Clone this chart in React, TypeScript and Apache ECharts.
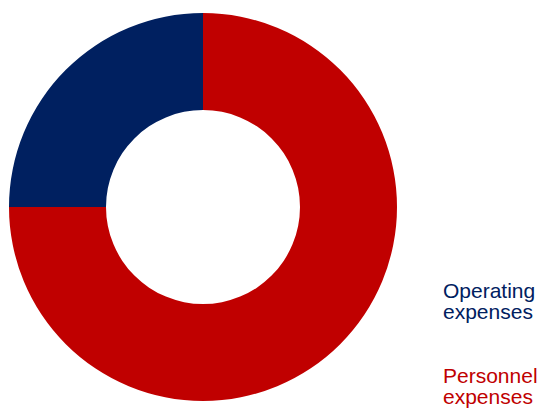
import React, { useEffect, useRef } from "react";
import * as echarts from "echarts";

const categories = ["Personnel expenses", "Operating expenses"];
const values = [75, 25];
const colors = ["#C00000", "#002060"];
const legendLabels = ["Personnel\nexpenses", "Operating\nexpenses"];

export default function App() {
  const ref = useRef<HTMLDivElement>(null);
  useEffect(() => {
    if (!ref.current) return;
    const chart = echarts.init(ref.current, undefined, { renderer: "svg" });
    const legendTops = [365, 280];
    chart.setOption({
      animation: false,
      backgroundColor: "#ffffff",
      graphic: legendLabels.map((t, i) => ({
        type: "text",
        left: 443,
        top: legendTops[i],
        style: {
          text: t,
          fill: colors[i],
          font: "21px 'Liberation Sans', Arial, sans-serif",
          lineHeight: 21,
        },
      })),
      series: [
        {
          type: "pie",
          center: [203, 207],
          radius: [97, 194],
          startAngle: 90,
          clockwise: true,
          label: { show: false },
          labelLine: { show: false },
          emphasis: { disabled: true },
          itemStyle: { borderWidth: 0 },
          data: categories.map((c, i) => ({
            name: c,
            value: values[i],
            itemStyle: { color: colors[i] },
          })),
        },
      ],
    });
    return () => chart.dispose();
  }, []);
  return <div ref={ref} style={{ width: 539, height: 410, position: "absolute", left: 0, top: 0 }} />;
}
